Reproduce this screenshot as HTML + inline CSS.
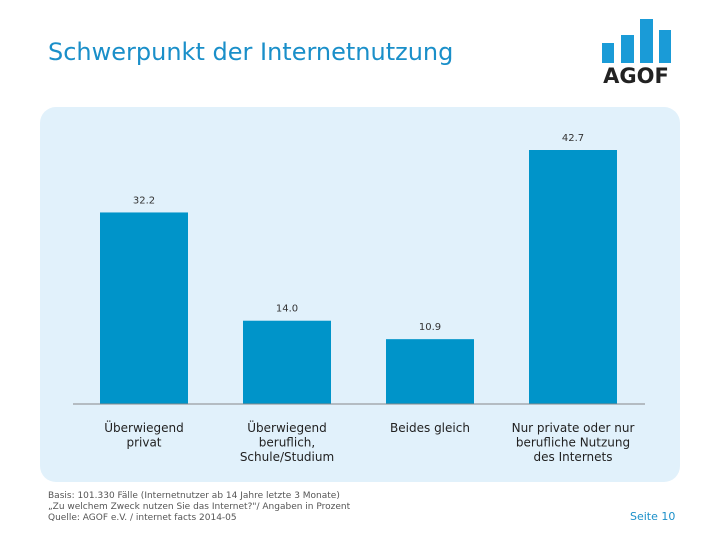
<!DOCTYPE html>
<html><head><meta charset="utf-8"><style>
body{margin:0;width:720px;height:540px;background:#fff;font-family:"DejaVu Sans",sans-serif;position:relative;overflow:hidden}
#title{position:absolute;left:48px;top:38px;font-size:24px;color:#1a8fc9}
#panel{position:absolute;left:40px;top:107px;width:640px;height:375px;background:#e1f1fb;border-radius:16px}
#foot{position:absolute;left:48px;top:491px;font-size:9px;line-height:11px;color:#555}
#page{position:absolute;left:630px;top:510px;font-size:11px;color:#1a8fc9}
svg{position:absolute;left:0;top:0}
</style></head><body>
<div id="title">Schwerpunkt der Internetnutzung</div>
<div id="panel"></div>
<svg width="720" height="540">
<rect x="602" y="43" width="12" height="20" fill="#1a9bd7"/>
<rect x="621" y="35" width="13" height="28" fill="#1a9bd7"/>
<rect x="640" y="19" width="13" height="44" fill="#1a9bd7"/>
<rect x="659" y="30" width="12" height="33" fill="#1a9bd7"/>
<text x="636" y="83" font-size="21" font-weight="bold" text-anchor="middle" fill="#222" font-family="DejaVu Sans, sans-serif">AGOF</text>
</svg>
<svg id="chart" width="720" height="540"></svg>
<div id="foot">Basis: 101.330 Fälle (Internetnutzer ab 14 Jahre letzte 3 Monate)<br>„Zu welchem Zweck nutzen Sie das Internet?"/ Angaben in Prozent<br>Quelle: AGOF e.V. / internet facts 2014-05</div>
<div id="page">Seite 10</div>
<script>
const categories=[["Überwiegend","privat"],["Überwiegend","beruflich,","Schule/Studium"],["Beides gleich"],["Nur private oder nur","berufliche Nutzung","des Internets"]];
const values=[32.2,14.0,10.9,42.7];
const labels=["32.2","14.0","10.9","42.7"];
const svg=document.getElementById('chart');const NS="http://www.w3.org/2000/svg";
const base=404,scale=254/42.7,x0=73,step=143,bw=88;
function y(v){return base-v*scale;}
function mk(t,a){const e=document.createElementNS(NS,t);for(const k in a)e.setAttribute(k,a[k]);svg.appendChild(e);return e;}
values.forEach((v,i)=>{
const x=x0+27+i*step;
const r=mk('rect',{x:x,y:y(v),width:bw,height:base-y(v),fill:'#0094c9'});


const t=mk('text',{x:x+bw/2,y:y(v)-9,'font-size':10,'text-anchor':'middle',fill:'#333','font-family':'DejaVu Sans, sans-serif'});t.textContent=labels[i];


categories[i].forEach((l,j)=>{const c=mk('text',{x:x+bw/2,y:432+j*14.5,'font-size':12,'text-anchor':'middle',fill:'#222','font-family':'DejaVu Sans, sans-serif'});c.textContent=l;

});
});
const ax=mk('line',{x1:x0,x2:645,y1:base,y2:base,stroke:'#888','stroke-width':1});


</script>
</body></html>
